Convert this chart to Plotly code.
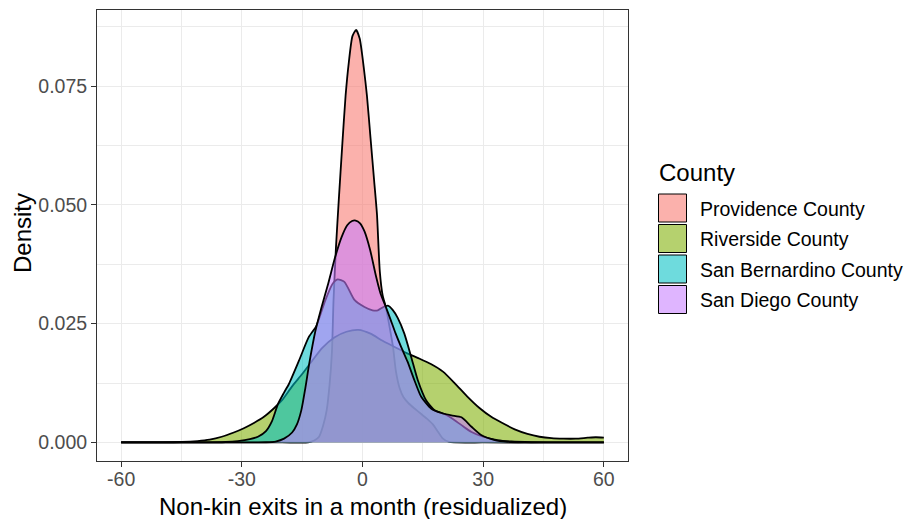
import plotly.graph_objects as go

# ---------------- data ----------------
counties = ["Providence County", "Riverside County", "San Bernardino County", "San Diego County"]
colors = ["#F8766D", "#7CAE00", "#00BFC4", "#C77CFF"]

prov_x = [-60, -40, -20, -13.5, -12, -10.8, -9.8, -8.9, -8.2, -7.6, -7.2, -6.6, -5.9, -5.0, -4.2, -3.4,
          -2.5, -1.6, -0.7, 0.3, 1.1, 2.0, 2.9, 3.6, 4.3, 5.0, 5.8, 6.8, 7.6, 8.3, 9.2, 10.2, 11.5, 13.0,
          14.6, 16.0, 17.5, 18.8, 20.0, 21.5, 30, 45, 60]
prov_y = [0, 0, 0, 0, 0.0004, 0.0012, 0.0035, 0.0068, 0.012, 0.019, 0.030, 0.041, 0.051, 0.063, 0.073, 0.080,
          0.0855, 0.0868, 0.085, 0.079, 0.073, 0.064, 0.055, 0.048, 0.036, 0.031, 0.0285, 0.024, 0.020, 0.015,
          0.0115, 0.0095, 0.0082, 0.0071, 0.006, 0.005, 0.0038, 0.0022, 0.0008, 0.0001, 0, 0, 0]

riv_x = [-60, -50, -45, -41, -38, -35, -32, -29.5, -27, -24.5, -22, -20, -17.5, -15, -12.5, -10, -7, -4, -1,
         2, 5, 8, 11, 14, 17, 20, 23, 26, 29, 32, 35, 38, 41, 44, 47, 50, 53, 56, 58, 60]
riv_y = [0, 0.00002, 0.0001, 0.0003, 0.0006, 0.0012, 0.0021, 0.003, 0.0041, 0.0054, 0.0072, 0.0089, 0.0118,
         0.0144, 0.0172, 0.0199, 0.0221, 0.0233, 0.0237, 0.0229, 0.0214, 0.0201, 0.0188, 0.0177, 0.0165,
         0.0149, 0.0124, 0.0097, 0.0073, 0.0054, 0.0040, 0.0027, 0.0018, 0.0012, 0.0009, 0.0008, 0.0008,
         0.001, 0.0011, 0.001]

sb_x = [-60, -40, -34, -31, -28, -26, -24, -22.5, -21, -19.5, -18.3, -15.8, -13.4, -11.5, -9.3, -7.5, -6.2,
        -4.5, -2, 0.5, 2.5, 3.8, 5.2, 6.3, 7.5, 8.75, 10.4, 12.1, 13.75, 15.8, 17.9, 20.4, 22.9, 25, 27.1,
        30, 33.5, 37, 42, 50, 60]
sb_y = [0, 0, 0.0001, 0.0003, 0.0007, 0.0012, 0.0024, 0.0045, 0.0081, 0.0105, 0.0123, 0.0172, 0.0221, 0.0245,
        0.0298, 0.0333, 0.0343, 0.0338, 0.0300, 0.0285, 0.0278, 0.0278, 0.0285, 0.0288, 0.0279, 0.0262,
        0.0229, 0.018, 0.0131, 0.0089, 0.0068, 0.0060, 0.0047, 0.0034, 0.0022, 0.0012, 0.0005, 0.0002,
        0.00005, 0, 0]

sd_x = [-60, -30, -24, -21.6, -19.5, -17.5, -16.3, -15.2, -14.2, -13.2, -11.7, -10.2, -8.5, -6.8, -5.2, -3.8,
        -2.6, -1.7, -0.6, 0.5, 1.9, 3.3, 4.5, 5.8, 7.0, 8.2, 9.6, 11.2, 12.9, 14.6, 17.1, 19.6, 22.1, 24.6,
        27.1, 29.6, 32.9, 36, 40, 50, 60]
sd_y = [0, 0, 0.00005, 0.0002, 0.0008, 0.0021, 0.0038, 0.0068, 0.0115, 0.0168, 0.0235, 0.0284, 0.0335, 0.0390,
        0.0432, 0.0457, 0.0466, 0.0467, 0.0461, 0.0444, 0.0405, 0.0352, 0.0313, 0.0285, 0.0258, 0.0230,
        0.0201, 0.0170, 0.0131, 0.0096, 0.0071, 0.0062, 0.0057, 0.0053, 0.0033, 0.0015, 0.0005, 0.00015,
        0.00003, 0, 0]

x_ticks = [-60, -30, 0, 30, 60]
x_ticklabels = ["-60", "-30", "0", "30", "60"]
x_minor = [-45, -15, 15, 45]
y_ticks = [0, 0.025, 0.05, 0.075]
y_ticklabels = ["0.000", "0.025", "0.050", "0.075"]
y_minor = [0.0125, 0.0375, 0.0625, 0.0875]

x_title = "Non-kin exits in a month (residualized)"
y_title = "Density"
legend_title = "County"

series_x = [prov_x, riv_x, sb_x, sd_x]
series_y = [prov_y, riv_y, sb_y, sd_y]

ALPHA = 0.57


def rgba(hex_color, a):
    h = hex_color.lstrip("#")
    r, g, b = int(h[0:2], 16), int(h[2:4], 16), int(h[4:6], 16)
    return f"rgba({r},{g},{b},{a})"


FONT = "Liberation Sans, Arial, Helvetica, sans-serif"
W, H = 909, 519
L, R, T, B = 97, 281, 10, 58
PW, PH = W - L - R, H - T - B


def px_x(p):
    return (p - L) / PW


def px_y(p):
    return (H - B - p) / PH


fig = go.Figure()
for name, xs, ys, col in zip(counties, series_x, series_y, colors):
    fig.add_trace(go.Scatter(
        x=xs, y=ys, name=name, mode="lines", fill="tozeroy",
        fillcolor=rgba(col, ALPHA),
        line=dict(color="black", width=1.8, shape="spline", smoothing=0.6),
        showlegend=False, hoverinfo="x+y+name",
    ))

# axis titles and a ggplot-like legend
shapes = []
annotations = [
    dict(text=x_title, x=px_x(362.5), y=px_y(506), xref="paper", yref="paper",
         xanchor="center", yanchor="middle", showarrow=False,
         font=dict(family=FONT, size=24, color="black")),
    dict(text=y_title, x=px_x(22), y=px_y(233), xref="paper", yref="paper", textangle=-90,
         xanchor="center", yanchor="middle", showarrow=False,
         font=dict(family=FONT, size=24, color="black")),
    dict(text=legend_title, x=px_x(657), y=px_y(172), xref="paper", yref="paper",
         xanchor="left", yanchor="middle", showarrow=False,
         font=dict(family=FONT, size=24, color="black")),
]
for i, (name, col) in enumerate(zip(counties, colors)):
    cy = 208 + 30.5 * i
    shapes.append(dict(type="rect", xref="paper", yref="paper",
                       x0=px_x(658.5), x1=px_x(686.5), y0=px_y(cy - 14), y1=px_y(cy + 14),
                       fillcolor=rgba(col, ALPHA), line=dict(color="black", width=1)))
    annotations.append(dict(text=name, x=px_x(698), y=px_y(cy + 1), xref="paper", yref="paper",
                            xanchor="left", yanchor="middle", showarrow=False,
                            font=dict(family=FONT, size=19.5, color="black")))

axis_common = dict(
    showline=True, linecolor="#333333", linewidth=1, mirror=True,
    ticks="outside", ticklen=5, tickcolor="#333333", tickwidth=1,
    showgrid=True, gridcolor="#EBEBEB", gridwidth=1.2, zeroline=False,
    tickfont=dict(family=FONT, size=19.5, color="#4D4D4D"),
    automargin=False,
)

fig.update_layout(
    width=W, height=H, margin=dict(l=L, r=R, t=T, b=B),
    paper_bgcolor="white", plot_bgcolor="white",
    font=dict(family=FONT),
    shapes=shapes, annotations=annotations,
    xaxis=dict(range=[-66, 66], tickvals=x_ticks, ticktext=x_ticklabels, ticklabelstandoff=-4,
               minor=dict(tickvals=x_minor, showgrid=True, gridcolor="#EBEBEB", gridwidth=0.6, ticks=""),
               **axis_common),
    yaxis=dict(range=[-0.0039, 0.0910], tickvals=y_ticks, ticktext=y_ticklabels,
               minor=dict(tickvals=y_minor, showgrid=True, gridcolor="#EBEBEB", gridwidth=0.6, ticks=""),
               **axis_common),
)

fig.write_html("out.html", config={"displayModeBar": False},
               post_script="document.body.style.margin='0';document.body.style.overflow='hidden';")
